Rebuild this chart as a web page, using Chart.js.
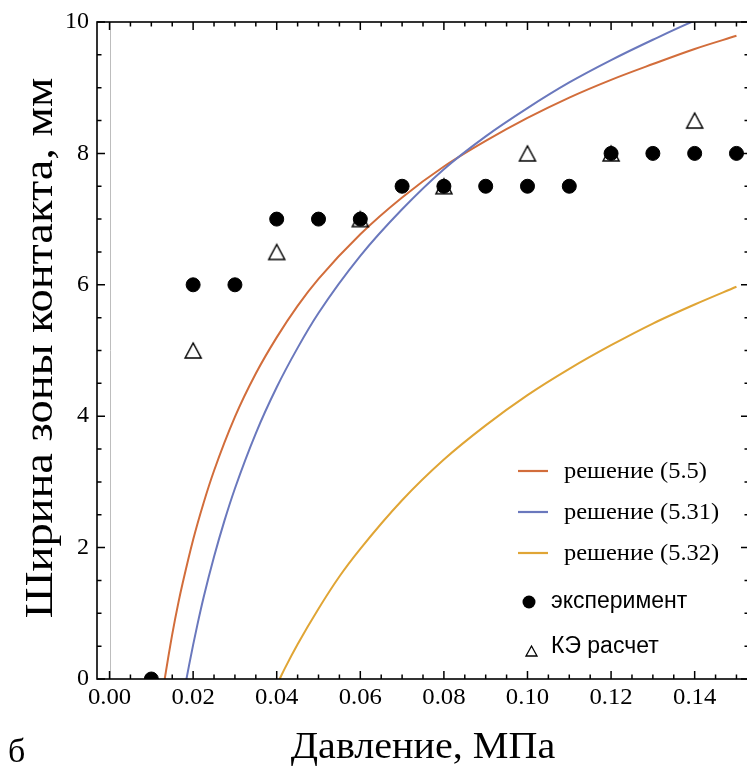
<!DOCTYPE html>
<html>
<head>
<meta charset="utf-8">
<script src="https://cdn.jsdelivr.net/npm/chart.js@4.4.1/dist/chart.umd.min.js"></script>
<style>
  html, body { margin: 0; padding: 0; background: #ffffff; overflow: hidden; }
  #wrap { position: relative; width: 760px; height: 772px; }
  canvas { display: block; }
</style>
</head>
<body>
<div id="wrap"><canvas id="chart" width="760" height="772"></canvas></div>
<script>
// Experiment: contact zone width vs pressure
const expPressure = [0.01, 0.02, 0.03, 0.04, 0.05, 0.06, 0.07, 0.08, 0.09, 0.10, 0.11, 0.12, 0.13, 0.14, 0.15];
const expWidth    = [0, 6, 6, 7, 7, 7, 7.5, 7.5, 7.5, 7.5, 7.5, 8, 8, 8, 8];

// Finite-element results
const fePressure = [0.02, 0.04, 0.06, 0.08, 0.10, 0.12, 0.14];
const feWidth    = [5, 6.5, 7, 7.5, 8, 8, 8.5];

// Analytical solution (5.5)
const sol55P = [0.0132, 0.014, 0.015, 0.0165, 0.0175, 0.02, 0.0225, 0.025, 0.03, 0.035, 0.04, 0.045, 0.05, 0.06, 0.07, 0.08, 0.09, 0.10, 0.11, 0.12, 0.13, 0.14, 0.15];
const sol55W = [0, 0.31, 0.68, 1.17, 1.46, 2.12, 2.68, 3.17, 3.99, 4.65, 5.20, 5.68, 6.09, 6.77, 7.33, 7.80, 8.19, 8.54, 8.85, 9.12, 9.36, 9.59, 9.79];

// Analytical solution (5.31)
const sol531P = [0.0184, 0.019, 0.02, 0.021, 0.0225, 0.025, 0.0275, 0.03, 0.035, 0.04, 0.045, 0.05, 0.06, 0.07, 0.08, 0.09, 0.10, 0.11, 0.12, 0.13, 0.14, 0.15];
const sol531W = [0, 0.20, 0.52, 0.82, 1.24, 1.86, 2.41, 2.90, 3.74, 4.44, 5.04, 5.57, 6.44, 7.15, 7.76, 8.26, 8.69, 9.08, 9.42, 9.73, 10.02, 10.26];

// Analytical solution (5.32)
const sol532P = [0.0407, 0.042, 0.045, 0.05, 0.055, 0.06, 0.07, 0.08, 0.09, 0.10, 0.11, 0.12, 0.13, 0.14, 0.15];
const sol532W = [0, 0.17, 0.53, 1.07, 1.56, 1.98, 2.72, 3.34, 3.86, 4.32, 4.72, 5.08, 5.41, 5.70, 5.97];

// Axis ticks
const xTickValues = [0, 0.02, 0.04, 0.06, 0.08, 0.10, 0.12, 0.14];
const xTickLabels = ['0.00', '0.02', '0.04', '0.06', '0.08', '0.10', '0.12', '0.14'];
const yTickValues = [0, 2, 4, 6, 8, 10];
const yTickLabels = ['0', '2', '4', '6', '8', '10'];

const seriesNames = ['решение (5.5)', 'решение (5.31)', 'решение (5.32)', 'эксперимент', 'КЭ расчет'];
const xTitle = 'Давление, МПа';
const yTitle = 'Ширина зоны контакта, мм';
const panelLetter = 'б';

const COLOR_55 = '#d26d3b';
const COLOR_531 = '#6a78bd';
const COLOR_532 = '#e0a535';
const SERIF = '"Liberation Serif", "Times New Roman", serif';
const SANS = '"Liberation Sans", Arial, sans-serif';

const zip = (xs, ys) => xs.map((x, i) => ({ x: x, y: ys[i] }));

// hollow triangle marker whose bounding box is centred on the point
function makeTriangle(w, h, lw) {
  const c = document.createElement('canvas');
  const pad = Math.ceil(lw) + 1;
  c.width = w + 2 * pad;
  c.height = h + 2 * pad;
  const g = c.getContext('2d');
  g.strokeStyle = '#000';
  g.lineWidth = lw;
  g.lineJoin = 'miter';
  g.beginPath();
  g.moveTo(pad + w / 2, pad);
  g.lineTo(pad + w, pad + h);
  g.lineTo(pad, pad + h);
  g.closePath();
  g.stroke();
  return c;
}
const triMarker = makeTriangle(16, 15, 1.5);

function drawText(ctx, text, x, y, font, align, baseline, sx) {
  ctx.save();
  ctx.translate(x, y);
  ctx.scale(sx || 1, 1);
  ctx.font = font;
  ctx.textAlign = align;
  ctx.textBaseline = baseline;
  ctx.fillStyle = '#000';
  ctx.fillText(text, 0, 0);
  ctx.restore();
}

const framePlugin = {
  id: 'frame',
  beforeDatasetsDraw(chart) {
    const { ctx, chartArea: a, scales: { x } } = chart;
    const x0 = Math.round(x.getPixelForValue(0)) + 0.5;
    ctx.save();
    ctx.strokeStyle = '#bdbdbd';
    ctx.lineWidth = 1;
    ctx.beginPath();
    ctx.moveTo(x0, a.top);
    ctx.lineTo(x0, a.bottom);
    ctx.stroke();
    ctx.restore();
  },
  afterDatasetsDraw(chart) {
    const { ctx, chartArea: a, scales: { x, y } } = chart;
    ctx.save();
    // frame
    ctx.strokeStyle = '#000';
    ctx.lineWidth = 1.6;
    ctx.strokeRect(a.left, a.top, a.right - a.left, a.bottom - a.top);

    // ticks, pointing inward on all four sides
    ctx.lineWidth = 1.5;
    const major = 8, minor = 4.5;
    ctx.beginPath();
    for (let k = 0; k <= 30; k++) {
      const v = k * 0.005;
      const px = x.getPixelForValue(v);
      const len = (k % 4 === 0) ? major : minor;
      ctx.moveTo(px, a.bottom); ctx.lineTo(px, a.bottom - len);
      ctx.moveTo(px, a.top); ctx.lineTo(px, a.top + len);
    }
    for (let k = 0; k <= 20; k++) {
      const v = k * 0.5;
      const py = y.getPixelForValue(v);
      const len = (k % 4 === 0) ? major : minor;
      ctx.moveTo(a.left, py); ctx.lineTo(a.left + len, py);
      ctx.moveTo(a.right, py); ctx.lineTo(a.right - len, py);
    }
    ctx.stroke();

    // tick labels
    xTickValues.forEach((v, i) => {
      drawText(ctx, xTickLabels[i], x.getPixelForValue(v), 704, '24px ' + SERIF, 'center', 'alphabetic', 1.03);
    });
    yTickValues.forEach((v, i) => {
      drawText(ctx, yTickLabels[i], a.left - 8, y.getPixelForValue(v), '24px ' + SERIF, 'right', 'middle', 1);
    });

    // axis titles
    drawText(ctx, xTitle, (a.left + a.right) / 2, 758, '38px ' + SERIF, 'center', 'alphabetic', 1.055);
    ctx.save();
    ctx.translate(52, 348);
    ctx.rotate(-Math.PI / 2);
    drawText(ctx, yTitle, 0, 0, '40px ' + SERIF, 'center', 'alphabetic', 1.16);
    ctx.restore();
    drawText(ctx, panelLetter, 8, 762, '34px ' + SERIF, 'left', 'alphabetic', 1);

    // legend
    const lines = [[COLOR_55, 471], [COLOR_531, 512], [COLOR_532, 553]];
    ctx.lineWidth = 2.2;
    lines.forEach(([col, ly], i) => {
      ctx.strokeStyle = col;
      ctx.beginPath();
      ctx.moveTo(518, ly); ctx.lineTo(548, ly);
      ctx.stroke();
      drawText(ctx, seriesNames[i], 564, ly + 1, '24px ' + SERIF, 'left', 'middle', 1.02);
    });
    ctx.fillStyle = '#000';
    ctx.beginPath();
    ctx.arc(529, 602, 6.5, 0, Math.PI * 2);
    ctx.fill();
    drawText(ctx, seriesNames[3], 551, 602, '23px ' + SANS, 'left', 'middle', 1);
    ctx.drawImage(makeTriangle(11, 10, 1.3), 523, 643);
    drawText(ctx, seriesNames[4], 551, 647, '23px ' + SANS, 'left', 'middle', 1);
    ctx.restore();
  }
};

new Chart(document.getElementById('chart'), {
  type: 'scatter',
  data: {
    datasets: [
      {
        label: seriesNames[3],
        data: zip(expPressure, expWidth),
        pointStyle: 'circle',
        pointRadius: 7,
        pointBackgroundColor: '#000',
        pointBorderColor: '#000',
        pointBorderWidth: 1,
        showLine: false,
        clip: 0,
        order: 0
      },
      {
        label: seriesNames[4],
        data: zip(fePressure, feWidth),
        pointStyle: triMarker,
        pointRadius: 9,
        showLine: false,
        clip: 0,
        order: 1
      },
      {
        label: seriesNames[0],
        data: zip(sol55P, sol55W),
        showLine: true,
        borderColor: COLOR_55,
        borderWidth: 2,
        pointRadius: 0,
        cubicInterpolationMode: 'monotone',
        clip: 0,
        order: 4
      },
      {
        label: seriesNames[1],
        data: zip(sol531P, sol531W),
        showLine: true,
        borderColor: COLOR_531,
        borderWidth: 2,
        pointRadius: 0,
        cubicInterpolationMode: 'monotone',
        clip: 0,
        order: 3
      },
      {
        label: seriesNames[2],
        data: zip(sol532P, sol532W),
        showLine: true,
        borderColor: COLOR_532,
        borderWidth: 2,
        pointRadius: 0,
        cubicInterpolationMode: 'monotone',
        clip: 0,
        order: 2
      }
    ]
  },
  options: {
    responsive: false,
    animation: false,
    devicePixelRatio: 1,
    layout: { padding: { left: 97, top: 22, right: 11, bottom: 93 } },
    scales: {
      x: { type: 'linear', min: -0.003, max: 0.153, display: false },
      y: { type: 'linear', min: 0, max: 10, display: false }
    },
    plugins: {
      legend: { display: false },
      tooltip: { enabled: false }
    }
  },
  plugins: [framePlugin]
});
</script>
</body>
</html>
